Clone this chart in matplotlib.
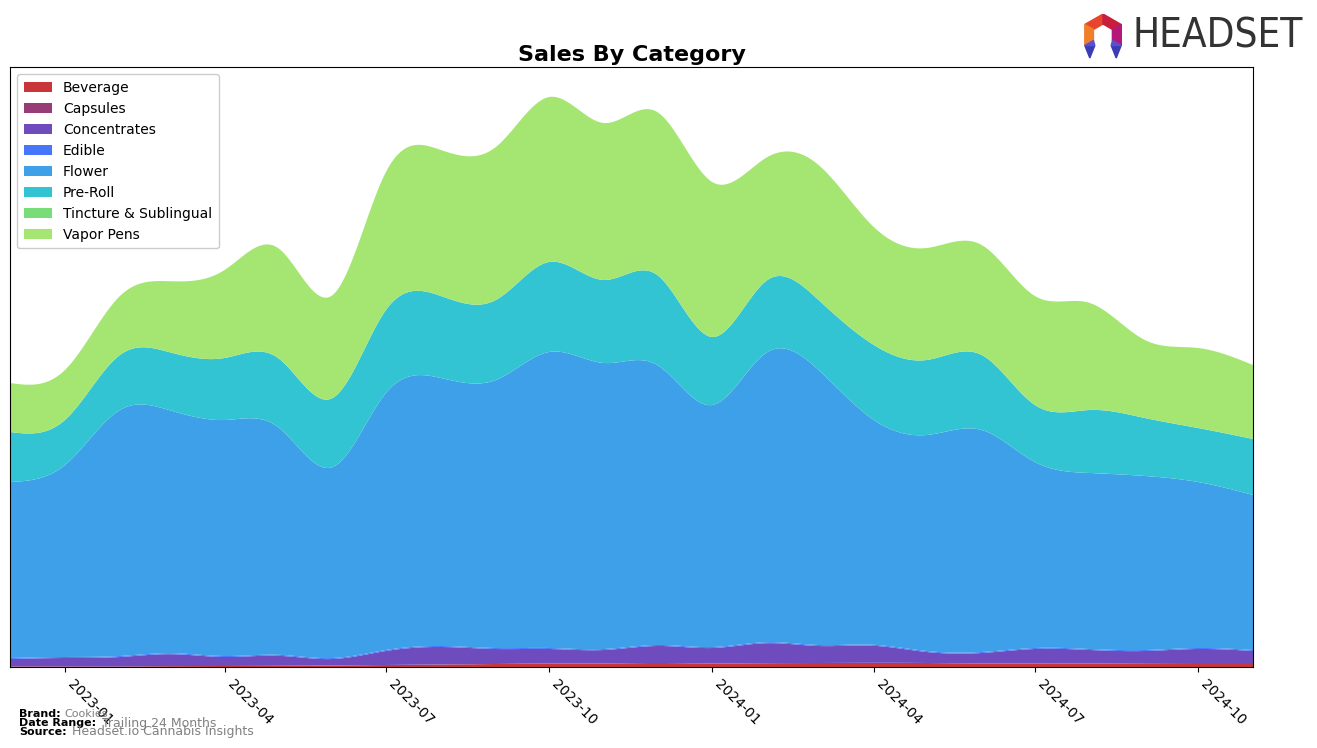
import numpy as np
import pandas as pd
import matplotlib
matplotlib.use("Agg")
import matplotlib.pyplot as plt
import matplotlib.dates as mdates
from matplotlib.patches import Polygon

months = pd.date_range("2022-12-01", "2024-11-01", freq="MS")
categories = ["Beverage", "Capsules", "Concentrates", "Edible", "Flower",
              "Pre-Roll", "Tincture & Sublingual", "Vapor Pens"]
colors = ["#c8363a", "#983c78", "#6e4cbe", "#4677fa", "#3ea0e8",
          "#32c4d3", "#78dc78", "#a5e673"]

beverage = [0.5, 0.5, 0.5, 0.8, 1, 1.2, 1.5, 2, 2.5, 3, 3.5, 3.5, 4, 3.5, 3.8, 4,
            4.2, 4, 3.5, 3.5, 3.5, 3.2, 3, 3]
capsules = [0] * 24
concentrates = [7.5, 8.5, 9.5, 12, 9, 10, 6.5, 14, 17.5, 15, 14.5, 13.5, 17, 15.5,
                20, 17, 17, 11, 10.5, 14.5, 13.5, 12.8, 15, 13]
edible = [1] * 24
flower = [176, 192, 246, 243, 236, 228, 191, 257, 268, 268, 296, 286, 280, 242,
          290, 275, 225, 216, 222, 186, 176, 174, 166, 155]
preroll = [50, 45, 55, 58, 62, 69, 69, 83, 82, 80, 90, 83, 90, 68, 72, 70, 75, 75,
           75, 57, 63, 58, 54, 56]
tincture = [0] * 24
vapor = [49, 50, 59, 71, 88, 110, 103, 138, 146, 153, 165, 157, 163, 155, 123, 135,
         118, 112, 110, 109, 107, 78, 80, 74]

series = [beverage, capsules, concentrates, edible, flower, preroll, tincture, vapor]


def natural_spline(x, y, xs):
    x = np.asarray(x, float)
    y = np.asarray(y, float)
    n = len(x)
    h = np.diff(x)
    A = np.zeros((n, n))
    b = np.zeros(n)
    A[0, 0] = 1
    A[-1, -1] = 1
    for i in range(1, n - 1):
        A[i, i - 1] = h[i - 1]
        A[i, i] = 2 * (h[i - 1] + h[i])
        A[i, i + 1] = h[i]
        b[i] = 3 * ((y[i + 1] - y[i]) / h[i] - (y[i] - y[i - 1]) / h[i - 1])
    c = np.linalg.solve(A, b)
    bb = np.zeros(n - 1)
    d = np.zeros(n - 1)
    for i in range(n - 1):
        bb[i] = (y[i + 1] - y[i]) / h[i] - h[i] * (2 * c[i] + c[i + 1]) / 3
        d[i] = (c[i + 1] - c[i]) / (3 * h[i])
    idx = np.clip(np.searchsorted(x, xs) - 1, 0, n - 2)
    dx = xs - x[idx]
    return y[idx] + bb[idx] * dx + c[idx] * dx ** 2 + d[idx] * dx ** 3


xnum = mdates.date2num(months.to_pydatetime())
xs = np.linspace(xnum[0], xnum[-1], 600)
ys = [np.clip(natural_spline(xnum, s, xs), 0, None) for s in series]

fig = plt.figure(figsize=(13.17, 7.48), dpi=100)
ax = fig.add_axes([10 / 1317, 1 - 667 / 748, 1243 / 1317, 600 / 748])
ax.stackplot(mdates.num2date(xs), *ys, colors=colors, labels=categories)
ax.set_xlim(mdates.num2date(xnum[0]), mdates.num2date(xnum[-1]))
ax.set_ylim(0, 600)
ax.set_yticks([])
ax.xaxis.set_major_locator(mdates.MonthLocator(bymonth=[1, 4, 7, 10]))
ax.xaxis.set_major_formatter(mdates.DateFormatter("%Y-%m"))
for lbl in ax.get_xticklabels():
    lbl.set_rotation(-45)
    lbl.set_ha("left")
    lbl.set_fontsize(10)
ax.set_title("Sales By Category", fontsize=16, fontweight="bold", pad=4)
ax.legend(loc="upper left", fontsize=10, framealpha=1, borderpad=0.5)

# footer
fig.text(19 / 1317, 1 - 714 / 748, "Brand:", fontsize=8, fontweight="bold", va="center")
fig.text(64 / 1317, 1 - 714 / 748, "Cookies", fontsize=8, color="gray", va="center")
fig.text(19 / 1317, 1 - 723 / 748, "Date Range:", fontsize=8, fontweight="bold", va="center")
fig.text(102 / 1317, 1 - 723 / 748, "Trailing 24 Months", fontsize=9, color="gray", va="center")
fig.text(19 / 1317, 1 - 732 / 748, "Source:", fontsize=8, fontweight="bold", va="center")
fig.text(72 / 1317, 1 - 732 / 748, "Headset.io Cannabis Insights", fontsize=9, color="gray", va="center")

# logo
lax = fig.add_axes([1078 / 1317, 1 - 60 / 748, 50 / 1317, 46 / 748])
lax.set_xlim(0, 50)
lax.set_ylim(0, 46)
lax.axis("off")
cx, cy, ro, ri = 25, 25, 21, 11
ang = np.deg2rad([90, 30, -30, -90, -150, 150])
outer = [(cx + ro * np.cos(a), cy + ro * np.sin(a)) for a in ang]
inner = [(cx + ri * np.cos(a), cy + ri * np.sin(a)) for a in ang]
seg_colors = {5: "#e8452c", 0: "#c81e3c", 1: "#b4197a", 4: "#f07f2a"}
for i, c in seg_colors.items():
    j = (i + 1) % 6
    lax.add_patch(Polygon([outer[i], outer[j], inner[j], inner[i]], closed=True, color=c))
# right side lower
lax.add_patch(Polygon([outer[1], outer[2], inner[2], inner[1]], closed=True, color="#b4197a"))
lax.add_patch(Polygon([outer[4], (outer[4][0] + 10, outer[4][1]), (outer[4][0] + 5, 2)], closed=True, color="#3a3cb4"))
lax.add_patch(Polygon([outer[2], (outer[2][0] - 10, outer[2][1]), (outer[2][0] - 5, 2)], closed=True, color="#3a3cb4"))
lax.add_patch(Polygon([outer[4], inner[4], (outer[4][0] + 10, outer[4][1])], closed=True, color="#5a50d0"))
lax.add_patch(Polygon([outer[2], inner[2], (outer[2][0] - 10, outer[2][1])], closed=True, color="#5a50d0"))
fig.text(1133 / 1317, 1 - 37 / 748, "HEADSET", fontsize=29, color="#333333",
         va="center", ha="left", family="DejaVu Sans", fontstretch="condensed")

fig.savefig("out.png", dpi=100)
